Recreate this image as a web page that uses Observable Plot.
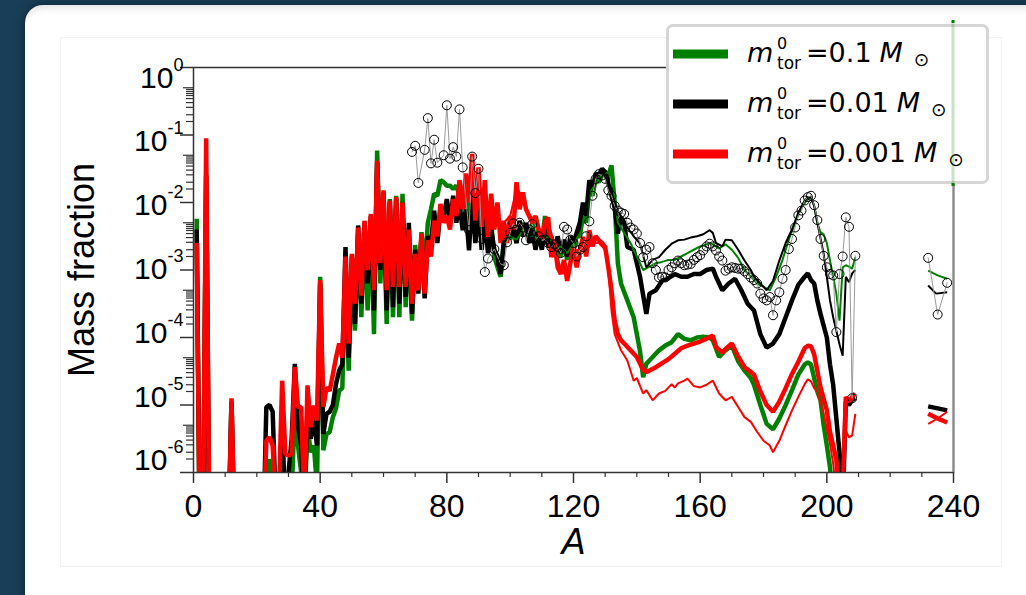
<!DOCTYPE html>
<html><head><meta charset="utf-8">
<script src="https://cdn.jsdelivr.net/npm/d3@7"></script>
<script src="https://cdn.jsdelivr.net/npm/@observablehq/plot@0.6"></script>
<style>
html,body{margin:0;padding:0;width:1026px;height:595px;overflow:hidden;background:#183f57;}
#card{position:absolute;left:25px;top:5px;width:1040px;height:650px;background:#fff;border-radius:18px;box-shadow:0 0 8px 2px rgba(0,0,0,0.35), inset 0 9px 9px -7px rgba(0,0,0,0.15);}
#inner{position:absolute;left:60px;top:37px;width:940px;height:528px;border:1px solid #f2f2f2;}
#chart{position:absolute;left:0;top:0;}
</style></head><body>
<div id="card"></div><div id="inner"></div><div id="chart"></div>
<script>
// ---- data: [A, log10(mass fraction)]; -7 = below the axis floor, null = gap ----
const greenThick = [[1,-2.24],[2,-7],[3,-7],[4,-1.6],[5,-7],[11,-7],[12,-4.95],[13,-7],[23,-7],[24,-5.8],[25,-6.2],[26,-7],[27,-6.5],[28,-5.5],[29,-6.5],[31,-6.3],[32,-5.1],[33,-5.6],[34,-6.0],[35,-6.5],[36,-5.3],[37,-5.7],[38,-5.6],[39,-6.2],[40,-3.1],[41,-5.67],[42,-5.43],[43,-5.4],[44,-5.18],[45,-5.05],[46,-4.79],[47,-4.75],[48,-3.0],[49,-4.49],[50,-2.9],[51,-3.9],[52,-2.45],[53,-3.7],[54,-2.35],[55,-3.6],[56,-2.25],[57,-3.95],[58,-1.23],[59,-3.2],[60,-1.9],[61,-3.8],[62,-1.95],[63,-3.7],[64,-1.9],[65,-3.7],[66,-1.87],[67,-3.55],[68,-2.5],[69,-3.75],[70,-2.63],[71,-3.3],[72,-2.44],[73,-3.0],[74,-2.3],[75,-2.1],[76,-1.87],[77,-1.9],[78,-1.67],[79,-1.7],[80,-1.75],[81,-1.75],[82,-1.8],[83,-1.75],[84,-1.9],[85,-2.1],[86,-1.8],[87,-2.3],[88,-1.75],[89,-2.5],[90,-1.9],[91,-2.6],[92,-2.1],[93,-2.7],[94,-2.3],[95,-2.8],[96,-2.96],[97,-3.1],[98,-2.55],[99,-2.4],[100,-2.55],[101,-2.35],[102,-2.6],[103,-2.3],[104,-2.5],[105,-2.35],[106,-2.55],[107,-2.3],[108,-2.6],[109,-2.4],[110,-2.6],[111,-2.2],[112,-2.5],[113,-2.6],[114,-2.8],[115,-2.6],[116,-2.8],[117,-2.6],[118,-2.85],[119,-2.6],[120,-2.7],[121,-2.5],[122,-2.5],[123,-2.2],[124,-2.3],[125,-1.8],[126,-1.9],[127,-1.65],[128,-1.7],[129,-1.6],[130,-1.55],[131,-1.6],[132,-1.45],[133,-2.0],[134,-2.9],[135,-3.2],[137,-3.45],[139,-3.7],[140,-3.95],[141,-4.2],[142,-4.59],[143,-4.39],[145,-4.29],[147,-4.19],[149,-4.12],[151,-4.07],[153,-3.95],[155,-4.02],[157,-4.04],[159,-4.0],[161,-3.99],[163,-4.0],[164,-4.04],[166,-4.29],[168,-4.19],[170,-4.12],[172,-4.35],[174,-4.49],[176,-4.6],[177,-4.7],[179,-5.0],[181,-5.28],[183,-5.36],[185,-5.2],[187,-5.0],[189,-4.78],[191,-4.55],[193,-4.4],[194,-4.37],[195,-4.4],[197,-4.8],[198,-4.93],[199,-5.3],[200,-5.6],[201,-5.92],[202,-6.5],[203,-7]];
const blackThick = [[1,-2.4],[2,-7],[3,-7],[4,-1.6],[5,-7],[11,-7],[12,-4.95],[13,-7],[22,-7],[23,-5.03],[24,-5.0],[25,-5.1],[26,-6.5],[27,-6.6],[28,-5.3],[29,-6.6],[30,-6.0],[31,-5.5],[32,-4.39],[33,-5.3],[34,-5.6],[35,-6.6],[36,-5.0],[37,-5.5],[38,-5.2],[39,-5.6],[40,-3.2],[41,-5.43],[42,-5.13],[43,-5.1],[44,-5.0],[45,-4.69],[46,-4.49],[47,-4.4],[48,-2.66],[49,-4.3],[50,-2.8],[51,-3.8],[52,-2.34],[53,-3.5],[54,-2.3],[55,-3.2],[56,-2.2],[57,-3.6],[58,-1.4],[59,-3.0],[60,-1.85],[61,-3.6],[62,-2.0],[63,-3.55],[64,-1.95],[65,-3.5],[66,-2.0],[67,-3.4],[68,-2.3],[69,-3.65],[70,-2.7],[71,-3.35],[72,-2.5],[73,-3.42],[74,-2.5],[75,-2.6],[76,-2.12],[77,-2.6],[78,-2.1],[79,-2.2],[80,-1.95],[81,-2.3],[82,-1.9],[83,-2.3],[84,-2.0],[85,-2.41],[86,-2.1],[87,-2.71],[88,-1.9],[89,-2.6],[90,-2.0],[91,-2.7],[92,-2.2],[93,-2.75],[94,-2.4],[95,-2.7],[96,-2.8],[97,-3.06],[98,-2.6],[99,-2.37],[100,-2.5],[101,-2.35],[102,-2.6],[103,-2.27],[104,-2.5],[105,-2.3],[106,-2.6],[107,-2.4],[108,-2.7],[109,-2.45],[110,-2.7],[111,-2.4],[112,-2.65],[113,-2.5],[114,-2.8],[115,-2.5],[116,-2.75],[117,-2.55],[118,-2.8],[119,-2.5],[120,-2.6],[121,-2.45],[122,-2.3],[123,-2.0],[124,-2.2],[125,-1.67],[126,-1.8],[127,-1.57],[128,-1.6],[129,-1.5],[130,-1.55],[131,-1.72],[132,-1.9],[133,-2.07],[134,-2.46],[135,-2.22],[136,-2.3],[137,-2.66],[139,-2.7],[141,-3.1],[143,-3.65],[144,-3.35],[146,-3.3],[148,-3.16],[150,-3.12],[152,-3.06],[154,-3.1],[156,-3.1],[158,-3.06],[160,-3.06],[162,-3.0],[164,-2.98],[165,-3.1],[167,-3.3],[169,-3.2],[171,-3.13],[173,-3.3],[175,-3.5],[177,-3.6],[179,-3.95],[181,-4.15],[183,-4.09],[185,-3.95],[187,-3.7],[189,-3.45],[191,-3.22],[193,-3.1],[194,-3.05],[195,-3.15],[196,-3.2],[197,-3.45],[198,-3.65],[200,-4.0],[201,-4.4],[202,-4.7],[203,-5.2],[204,-5.7],[205,-6.5],[206,-4.95],[207,-5.0],[208,-4.92],[209,-4.9],[210,null],[232,-5.02],[235,-5.05],[238,-5.08]];
const redThick = [[1,-2.6],[2,-7],[3,-7],[4,-1.05],[5,-7],[11,-7],[12,-4.9],[13,-7],[22,-7],[23,-5.53],[24,-5.48],[25,-5.6],[26,-6.5],[27,-6.3],[28,-4.64],[29,-5.72],[30,-5.75],[31,-5.72],[32,-4.44],[33,-5.03],[34,-5.03],[35,-6.5],[36,-4.71],[37,-5.33],[38,-5.01],[39,-5.23],[40,-3.15],[41,-5.03],[42,-4.74],[43,-4.79],[44,-4.55],[45,-4.3],[46,-4.09],[47,-4.3],[48,-2.8],[49,-4.09],[50,-2.76],[51,-3.5],[52,-2.37],[53,-3.38],[54,-2.27],[55,-3.0],[56,-2.17],[57,-3.3],[58,-1.38],[59,-2.9],[60,-1.82],[61,-3.3],[62,-1.97],[63,-3.25],[64,-1.92],[65,-3.25],[66,-2.0],[67,-3.25],[68,-2.4],[69,-3.5],[70,-2.76],[71,-3.3],[72,-2.46],[73,-3.35],[74,-2.56],[75,-2.8],[76,-2.27],[77,-2.5],[78,-2.02],[79,-2.3],[80,-2.2],[81,-2.4],[82,-1.95],[83,-2.2],[84,-1.67],[85,-2.1],[86,-1.57],[87,-2.0],[88,-1.28],[89,-2.27],[90,-1.48],[91,-2.36],[92,-1.67],[93,-2.51],[94,-1.87],[95,-2.4],[96,-2.0],[97,-2.6],[98,-2.27],[99,-2.6],[100,-2.2],[101,-2.4],[102,-1.7],[103,-2.1],[104,-1.85],[105,-2.1],[106,-2.2],[107,-2.3],[108,-2.2],[109,-2.4],[110,-2.56],[111,-2.3],[112,-2.22],[113,-2.81],[114,-2.6],[115,-2.96],[116,-3.06],[117,-2.85],[118,-3.16],[119,-2.9],[120,-2.66],[121,-2.96],[122,-2.7],[123,-2.51],[124,-2.8],[125,-2.41],[126,-2.65],[127,-2.5],[128,-2.56],[129,-2.6],[130,-2.66],[131,-2.96],[132,-3.3],[133,-3.75],[134,-3.95],[135,-4.04],[136,-4.09],[138,-4.19],[140,-4.29],[142,-4.48],[143,-4.51],[144,-4.49],[146,-4.44],[148,-4.38],[150,-4.32],[152,-4.24],[154,-4.16],[156,-4.12],[158,-4.09],[160,-4.06],[162,-4.02],[164,-3.97],[165,-4.14],[167,-4.22],[168,-4.17],[170,-4.09],[172,-4.28],[174,-4.44],[176,-4.51],[177,-4.55],[179,-4.8],[181,-5.0],[183,-5.1],[185,-4.95],[187,-4.75],[189,-4.54],[191,-4.36],[193,-4.16],[194,-4.12],[195,-4.13],[196,-4.25],[198,-4.74],[200,-5.08],[201,-5.4],[202,-5.6],[203,-5.82],[204,-6.3],[205,-6.3],[206,-4.88],[207,-4.95],[208,-4.88],[209,-4.83],[210,null],[232,-5.13],[235,-5.2],[238,-5.26]];
const greenThin = [[98,-2.6],[100,-2.5],[102,-2.55],[104,-2.4],[106,-2.5],[108,-2.5],[110,-2.6],[112,-2.5],[114,-2.7],[116,-2.65],[118,-2.75],[120,-2.6],[122,-2.45],[123,-2.2],[124,-2.25],[125,-1.85],[126,-1.8],[127,-1.65],[128,-1.62],[129,-1.6],[130,-1.58],[131,-1.55],[132,-1.5],[133,-1.9],[134,-2.3],[136,-2.45],[138,-2.6],[140,-2.8],[142,-3.0],[144,-2.95],[146,-2.9],[148,-2.88],[150,-2.85],[152,-2.85],[154,-2.8],[156,-2.75],[158,-2.7],[160,-2.65],[162,-2.62],[163,-2.6],[164,-2.62],[166,-2.68],[168,-2.62],[170,-2.7],[172,-2.82],[174,-3.0],[176,-3.1],[178,-3.2],[180,-3.25],[182,-3.3],[184,-3.1],[186,-2.85],[188,-2.55],[190,-2.3],[192,-2.07],[194,-1.95],[195,-1.92],[196,-2.05],[197,-2.3],[198,-2.44],[199,-2.47],[200,-2.6],[201,-2.86],[202,-3.1],[203,-3.35],[204,-3.75],[205,-2.96],[206,-2.93],[207,-2.95],[208,-2.98],[209,-2.81],[210,null],[232,-3.01],[235,-3.08],[238,-3.13]];
const blackThin = [[98,-2.6],[100,-2.45],[102,-2.5],[104,-2.35],[106,-2.5],[108,-2.45],[110,-2.6],[112,-2.55],[114,-2.7],[116,-2.6],[118,-2.7],[120,-2.55],[122,-2.4],[123,-2.1],[124,-2.2],[125,-1.8],[126,-1.75],[127,-1.62],[128,-1.58],[129,-1.55],[130,-1.6],[131,-1.7],[132,-1.87],[134,-2.12],[135,-2.2],[137,-2.37],[139,-2.5],[141,-2.61],[143,-2.96],[145,-2.85],[147,-2.81],[149,-2.7],[151,-2.61],[153,-2.56],[155,-2.55],[157,-2.52],[159,-2.5],[161,-2.47],[163,-2.41],[164,-2.45],[165,-2.6],[167,-2.65],[168,-2.55],[170,-2.56],[172,-2.7],[174,-2.86],[176,-3.0],[177,-3.1],[179,-3.2],[181,-3.3],[183,-3.16],[185,-2.86],[187,-2.6],[189,-2.4],[191,-2.15],[193,-1.97],[194,-1.92],[195,-1.92],[196,-2.05],[197,-2.3],[199,-2.76],[200,-3.1],[201,-3.45],[202,-3.7],[203,-3.9],[204,-4.1],[205,-4.27],[206,-3.1],[207,-3.18],[208,-3.05],[209,-3.0],[210,null],[232,-3.23],[234.5,-3.35],[238,-3.33]];
const redThin = [[98,-2.3],[100,-2.2],[102,-1.8],[104,-1.9],[106,-2.2],[108,-2.25],[110,-2.5],[112,-2.3],[114,-2.6],[116,-3.0],[118,-3.1],[120,-2.7],[122,-2.7],[124,-2.7],[126,-2.6],[128,-2.6],[130,-2.7],[131,-3.0],[132,-3.6],[133,-3.95],[135,-4.19],[137,-4.34],[139,-4.64],[140,-4.6],[142,-4.83],[143,-4.78],[145,-4.93],[147,-4.83],[149,-4.79],[151,-4.69],[152,-4.74],[153,-4.68],[155,-4.64],[156,-4.61],[158,-4.72],[160,-4.74],[162,-4.7],[164,-4.64],[166,-4.83],[168,-4.93],[170,-4.88],[172,-5.03],[174,-5.18],[176,-5.25],[178,-5.4],[180,-5.53],[182,-5.6],[183,-5.7],[185,-5.53],[187,-5.3],[189,-5.08],[191,-4.88],[193,-4.69],[194,-4.62],[195,-4.65],[196,-4.75],[197,-4.8],[199,-5.13],[201,-5.58],[202,-5.87],[203,-6.3],[205,-6.3],[206,-5.38],[207,-5.48],[208,-5.45],[209,-5.13],[210,null],[232,-5.28],[235,-5.2],[238,-5.1]];
const solarR = [[69,-1.25],[70,-1.16],[71,-1.71],[73,-1.22],[74,-0.75],[75,-1.42],[76,-1.07],[77,-1.41],[79,-1.3],[80,-0.56],[81,-1.35],[82,-1.18],[83,-1.32],[84,-0.62],[85,-1.48],[87,-2.41],[88,-1.32],[89,-1.86],[90,-1.5],[91,-2.54],[92,-3.03],[93,-2.83],[95,-2.69],[97,-2.91],[98,-2.93],[99,-2.59],[100,-2.45],[101,-2.31],[102,-2.4],[103,-2.3],[104,-2.37],[105,-2.56],[106,-2.4],[107,-2.32],[108,-2.56],[109,-2.5],[110,-2.56],[111,-2.55],[112,-2.6],[113,-2.66],[114,-2.62],[115,-2.66],[116,-2.75],[117,-2.36],[118,-2.4],[119,-2.55],[120,-2.6],[121,-2.8],[122,-2.7],[123,-2.66],[124,-2.5],[125,-2.28],[126,-1.9],[127,-1.65],[128,-1.58],[129,-1.6],[130,-1.65],[131,-1.82],[132,-1.9],[133,-2.05],[134,-2.12],[135,-2.15],[136,-2.17],[137,-2.3],[138,-2.37],[139,-2.4],[140,-2.46],[141,-2.6],[142,-2.81],[143,-2.7],[144,-2.66],[145,-2.9],[146,-3.0],[147,-3.11],[148,-3.1],[149,-3.11],[150,-3.0],[151,-2.96],[152,-2.9],[153,-2.86],[154,-2.9],[155,-2.93],[156,-2.92],[157,-2.91],[158,-2.85],[159,-2.81],[160,-2.78],[161,-2.71],[162,-2.65],[163,-2.61],[164,-2.65],[165,-2.71],[166,-2.8],[167,-2.86],[168,-3.01],[169,-2.98],[170,-2.96],[171,-2.97],[172,-2.98],[173,-2.98],[174,-3.02],[175,-3.06],[176,-3.11],[177,-3.15],[178,-3.2],[179,-3.35],[180,-3.42],[181,-3.45],[182,-3.4],[183,-3.67],[184,-3.45],[185,-3.33],[186,-3.13],[187,-3.0],[188,-2.69],[189,-2.54],[190,-2.37],[191,-2.19],[192,-2.12],[193,-1.97],[194,-1.92],[195,-1.9],[196,-2.04],[197,-2.26],[198,-2.54],[199,-2.79],[200,-2.96],[201,-3.06],[202,-3.08],[203,-3.92],[204,-3.06],[205,-2.8],[206,-2.22],[207,-2.36],[208,-4.9],[209,-2.79],[210,null],[232,-2.82],[235,-3.66],[238,-3.19]];

const xTicks = [0, 40, 80, 120, 160, 200, 240];
const xMinorTicks = [10, 20, 30, 50, 60, 70, 90, 100, 110, 130, 140, 150, 170, 180, 190, 210, 220, 230];
const yExponents = [0, -1, -2, -3, -4, -5, -6];
// minor y ticks of the original sit inside each decade at these fractions of a decade below the upper label
const yMinorFractions = [0.30, 0.325, 0.355, 0.385, 0.415, 0.46, 0.52, 0.59, 0.70, 0.80];
const legendMasses = ["0.1", "0.01", "0.001"];
const legendColors = ["#008000", "#000000", "#ff0000"];

// ---- build ----
const pts = arr => arr.map(([A, e]) => ({A, v: e == null ? NaN : Math.pow(10, e)}));
const yTicks = yExponents.map(e => Math.pow(10, e));
const yMinorLong = [], yMinorShort = [];
for (let e = 0; e > -6; e--) yMinorFractions.forEach((f, i) => (i === 0 ? yMinorLong : yMinorShort).push(Math.pow(10, e - f)));
const FONT = "Liberation Sans, Arial, sans-serif";

const lineOpts = (color, w) => ({x: "A", y: "v", stroke: color, strokeWidth: w, clip: true, strokeLinejoin: "bevel", strokeLinecap: "butt"});

const svg = Plot.plot({
  width: 1026, height: 595,
  marginLeft: 193, marginRight: 73, marginTop: 67, marginBottom: 123,
  style: {background: "transparent", overflow: "visible", fontFamily: FONT},
  x: {domain: [0, 240]},
  y: {type: "log", domain: [1e-6, 1]},
  marks: [
    Plot.line(pts(greenThick), lineOpts("#008000", 4.5)),
    Plot.line(pts(blackThick), lineOpts("#000000", 4.5)),
    Plot.line(pts(redThick), lineOpts("#ff0000", 4.5)),
    Plot.line(pts(greenThin), lineOpts("#008000", 2)),
    Plot.line(pts(blackThin), lineOpts("#000000", 2)),
    Plot.line(pts(redThin), lineOpts("#ff0000", 2)),
    Plot.line(pts(solarR), {x: "A", y: "v", stroke: "#9a9a9a", strokeWidth: 1, clip: true}),
    Plot.dot(pts(solarR).filter(d => !isNaN(d.v)), {x: "A", y: "v", r: 4.5, stroke: "#000", strokeWidth: 1, fill: "none", clip: true}),
    Plot.frame({stroke: "#333", strokeWidth: 1.5}),
    Plot.ruleX([240], {stroke: "#8a8a8a", strokeWidth: 2}),
    Plot.axisX(xTicks, {tickSize: 11, tickPadding: 11, fontSize: 32, stroke: "#333", strokeWidth: 1.5, label: null, tickFormat: d => String(d), fill: "#000"}),
    Plot.axisX(xMinorTicks, {tickSize: 5, stroke: "#333", strokeWidth: 1.2, fill: "none", label: null}),
    Plot.axisY(yTicks, {tickSize: 13, tickPadding: -3, fontSize: 30, stroke: "#333", strokeWidth: 1.5, label: null, tickFormat: d => String(Math.round(Math.log10(d))), fill: "#000"}),
    Plot.axisY(yMinorLong, {tickSize: 10, stroke: "#333", strokeWidth: 1.2, fill: "none", label: null}),
    Plot.axisY(yMinorShort, {tickSize: 7, stroke: "#333", strokeWidth: 1.2, fill: "none", label: null}),
    Plot.text(["Mass fraction"], {frameAnchor: "left", textAnchor: "middle", text: d => d, rotate: -90, dx: -111, fontSize: 36, fill: "#000"}),
    Plot.text(["A"], {frameAnchor: "bottom", text: d => d, dy: 81, fontSize: 36, fontStyle: "italic", fill: "#000"})
  ]
});

// y tick labels as 10 with superscript exponent (labels sit slightly closer together than the ticks, as in the original)
d3.select(svg).selectAll('g[aria-label="y-axis tick label"] text').each(function() {
  const e = this.textContent;
  const k = Math.abs(+e);
  const t = d3.select(this);
  t.attr("dy", null).attr("y", null).text("");
  t.append("tspan").attr("dy", 20 - 3.7 * k).text("10");
  t.append("tspan").attr("dy", -17).attr("font-size", 18).text(e);
});

// legend
const lg = d3.select(svg).append("g").attr("class", "legend").attr("text-anchor", "start");
lg.append("rect").attr("x", 667.5).attr("y", 25.5).attr("width", 320).attr("height", 157).attr("rx", 5)
  .attr("fill", "#fff").attr("stroke", "#d6d6d6").attr("stroke-width", 3);
legendMasses.forEach((m, i) => {
  const base = 62 + i * 50;
  lg.append("line").attr("x1", 673).attr("x2", 728).attr("y1", base - 8).attr("y2", base - 8)
    .attr("stroke", legendColors[i]).attr("stroke-width", 9);
  const t = lg.append("text").attr("x", 747).attr("y", base).attr("text-anchor", "start")
    .attr("font-family", "DejaVu Sans, sans-serif").attr("font-size", 27).attr("fill", "#000");
  t.append("tspan").attr("font-style", "italic").text("m");
  t.append("tspan").attr("x", 777).attr("y", base - 13).attr("font-size", 16).text("0");
  t.append("tspan").attr("x", 777).attr("y", base + 7).attr("font-size", 17).text("tor");
  t.append("tspan").attr("x", 806).attr("y", base).text("=" + m);
  t.append("tspan").attr("dx", 8).attr("font-style", "italic").text("M");
  t.append("tspan").attr("dx", 11).attr("dy", 4).attr("font-size", 18.5).text("\u2299");
});
// faint green stripe crossing the legend at the right edge
lg.append("line").attr("x1", 953).attr("x2", 953).attr("y1", 20).attr("y2", 186)
  .attr("stroke", "rgba(0,128,0,0.22)").attr("stroke-width", 3);
lg.append("line").attr("x1", 953).attr("x2", 953).attr("y1", 20).attr("y2", 23).attr("stroke", "#008000").attr("stroke-width", 3);
lg.append("line").attr("x1", 953).attr("x2", 953).attr("y1", 183).attr("y2", 186).attr("stroke", "#008000").attr("stroke-width", 3);

document.getElementById("chart").appendChild(svg);
</script></body></html>
